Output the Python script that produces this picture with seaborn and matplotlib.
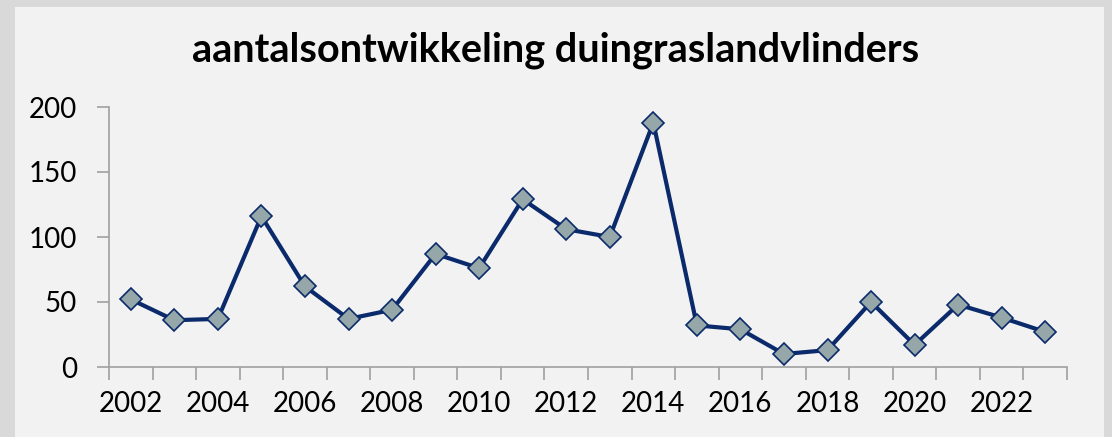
import matplotlib
matplotlib.use("Agg")
import matplotlib.pyplot as plt
import matplotlib.patches as patches
import seaborn as sns
import pandas as pd
import numpy as np

# yearly counts
years = list(range(2002, 2024))
counts = [52, 36, 37, 116, 62, 37, 44, 87, 76, 129, 106, 100,
          188, 32, 29, 10, 13, 50, 17, 48, 38, 27]
y_ticks = [0, 50, 100, 150, 200]
title = "aantalsontwikkeling duingraslandvlinders"

df = pd.DataFrame({"year": years, "count": counts})
df["pos"] = np.arange(len(df))

sns.set_theme(style="white")
plt.rcParams['font.family'] = ['Lato', 'DejaVu Sans']

fig = plt.figure(figsize=(11.12, 4.37), dpi=100)
fig.patch.set_facecolor("#d9d9d9")
# inner light panel
fig.patches.append(patches.Rectangle((15 / 1112, 0), (1104 - 15) / 1112, 1 - 7 / 437,
                                     transform=fig.transFigure, facecolor="#f2f2f2",
                                     edgecolor="none", zorder=-10))

ax = fig.add_axes([109 / 1112, 1 - 367 / 437, (1067 - 109) / 1112, (367 - 107) / 437])
ax.set_facecolor("none")

sns.lineplot(data=df, x="pos", y="count", ax=ax, color="#0b2a6b", linewidth=3,
             marker="D", markersize=11, markerfacecolor="#95a7a8",
             markeredgecolor="#0b2a6b", markeredgewidth=1.2)

n = len(years)
ax.set_xlim(-0.5, n - 0.5)
ax.set_ylim(0, 200)

# tick marks between categories, labels every other year
ax.set_xticks(np.arange(n + 1) - 0.5)
ax.set_xticklabels([])
ax.set_xticks(df["pos"][::2], minor=True)
ax.set_xticklabels([str(y) for y in years[::2]], minor=True)
ax.tick_params(axis="x", which="major", length=9, width=1.2, color="#a0a0a0",
               direction="out", bottom=True)
ax.tick_params(axis="x", which="minor", length=0, labelsize=20, pad=17,
               labelcolor="black")

ax.set_yticks(y_ticks)
ax.set_yticklabels([str(v) for v in y_ticks])
ax.tick_params(axis="y", length=9, width=1.2, color="#a0a0a0", direction="out",
               left=True, labelsize=20, pad=14, labelcolor="black")

for s in ["top", "right"]:
    ax.spines[s].set_visible(False)
for s in ["left", "bottom"]:
    ax.spines[s].set_color("#a0a0a0")
    ax.spines[s].set_linewidth(1.2)

ax.set_xlabel("")
ax.set_ylabel("")
ax.grid(False)

fig.text(0.5, 1 - 50 / 437, title, ha="center", va="center",
         fontsize=28.5, fontweight="bold", color="black")

fig.savefig("out.png", dpi=100, facecolor=fig.get_facecolor())
